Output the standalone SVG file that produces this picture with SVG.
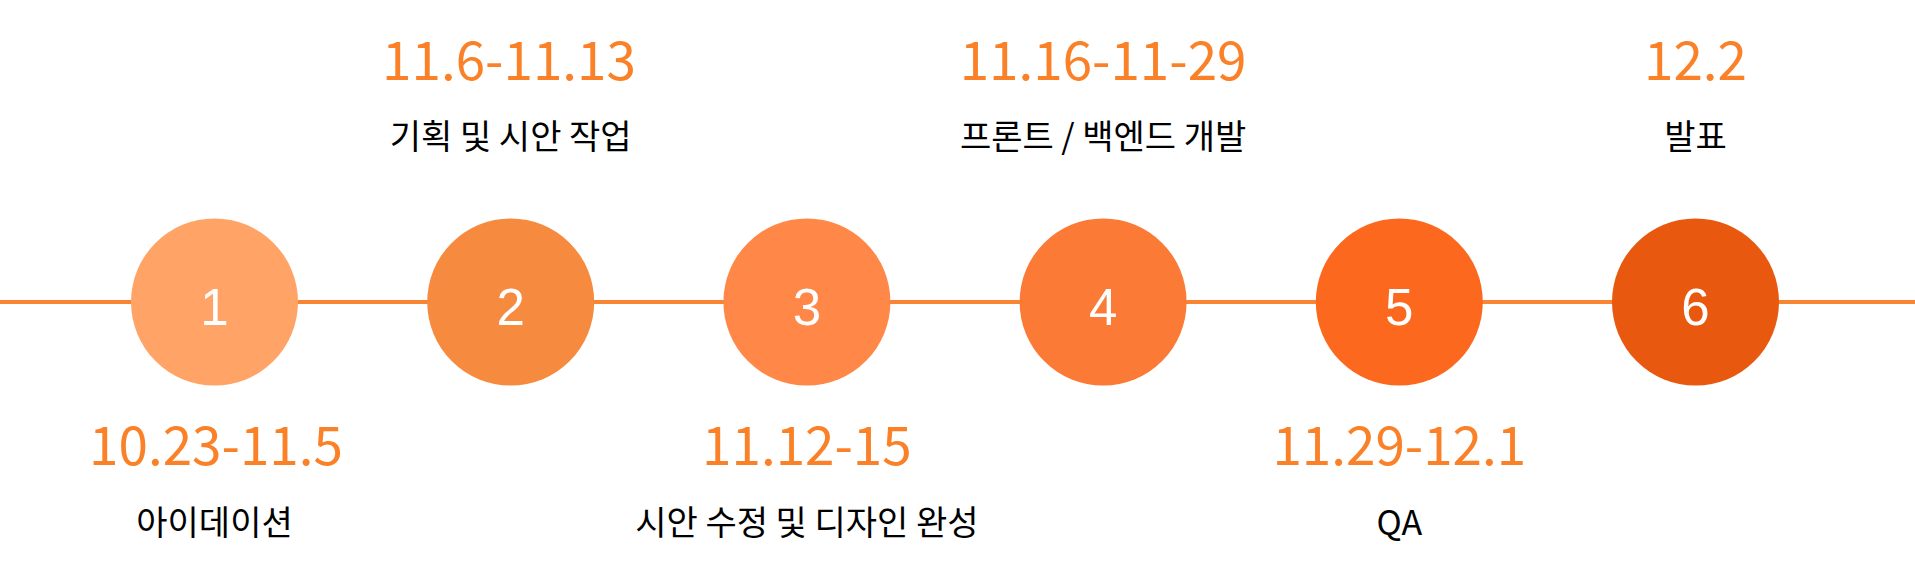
<svg xmlns="http://www.w3.org/2000/svg" width="1915" height="566" viewBox="0 0 1915 566">
<style>
.num{font-family:"Liberation Sans",Arial,sans-serif;font-size:51px;fill:#fff;text-anchor:middle}
.date{font-family:"Noto Sans CJK KR","Noto Sans",sans-serif;font-size:53px;fill:#FA8128;text-anchor:middle}
.lbl{font-family:"Noto Sans CJK KR","Noto Sans",sans-serif;font-size:34px;fill:#000;text-anchor:middle}
</style>
<rect width="1915" height="566" fill="#fff"/>
<g id="connectors">
<line x1="0" y1="302" x2="1915" y2="302" stroke="#F98431" stroke-width="4"/>
</g>
<g id="node1"><circle cx="214.5" cy="302" r="83.5" fill="#FFA466"/><text class="num" x="214.5" y="324.5">1</text><text class="date" x="216" y="465">10.23-11.5</text><text class="lbl" x="214.5" y="535">아이데이션</text></g>
<g id="node2"><circle cx="510.7" cy="302" r="83.5" fill="#F68B3F"/><text class="num" x="510.7" y="324.5">2</text><text class="date" x="509" y="80">11.6-11.13</text><text class="lbl" x="510.7" y="149">기획 및 시안 작업</text></g>
<g id="node3"><circle cx="806.9" cy="302" r="83.5" fill="#FF8849"/><text class="num" x="806.9" y="324.5">3</text><text class="date" x="806.9" y="465">11.12-15</text><text class="lbl" x="806.9" y="535">시안 수정 및 디자인 완성</text></g>
<g id="node4"><circle cx="1103.1" cy="302" r="83.5" fill="#FB7A35"/><text class="num" x="1103.1" y="324.5">4</text><text class="date" x="1103.1" y="80">11.16-11-29</text><text class="lbl" x="1103.1" y="149">프론트 / 백엔드 개발</text></g>
<g id="node5"><circle cx="1399.3" cy="302" r="83.5" fill="#FC681D"/><text class="num" x="1399.3" y="324.5">5</text><text class="date" x="1399.3" y="465">11.29-12.1</text><text class="lbl" x="1399.3" y="535">QA</text></g>
<g id="node6"><circle cx="1695.5" cy="302" r="83.5" fill="#E8580F"/><text class="num" x="1695.5" y="324.5">6</text><text class="date" x="1695.5" y="80">12.2</text><text class="lbl" x="1695.5" y="149">발표</text></g>
</svg>
